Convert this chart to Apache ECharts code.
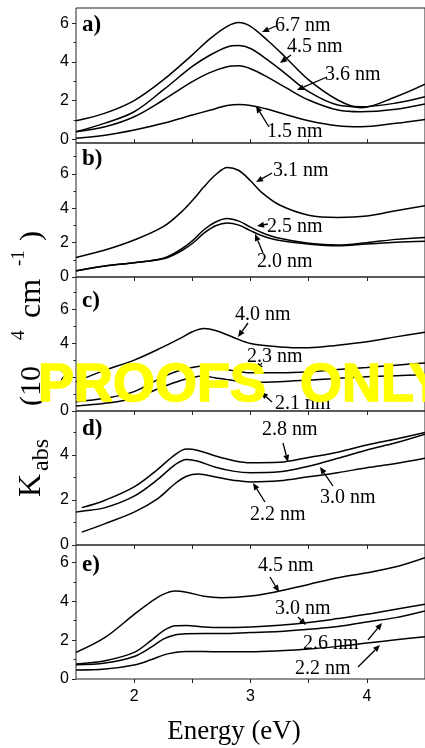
<!DOCTYPE html>
<html>
<head>
<meta charset="utf-8">
<script src="https://cdn.jsdelivr.net/npm/echarts@6/dist/echarts.min.js"></script>
<style>
  html, body { margin: 0; padding: 0; background: #fff; }
  #chart { width: 425px; height: 748px; }
</style>
</head>
<body>
<div id="chart"></div>
<script>
// Absorption spectra, five stacked panels sharing the energy axis (eV).

// ---- panel a) ----
const energyA = [1.5, 1.75, 2.0, 2.25, 2.5, 2.65, 2.8, 2.9, 3.0, 3.15, 3.3, 3.5, 3.75, 3.95, 4.25, 4.5];
const a_6_7 = [0.95, 1.35, 2.0, 3.07, 4.37, 5.2, 5.85, 6.05, 5.85, 5.1, 4.25, 3.07, 2.03, 1.63, 2.2, 2.85];
const a_4_5 = [0.38, 0.83, 1.42, 2.55, 3.77, 4.35, 4.78, 4.85, 4.7, 4.1, 3.4, 2.46, 1.77, 1.68, 1.87, 2.2];
const a_3_6 = [0.38, 0.64, 1.16, 2.03, 2.98, 3.45, 3.75, 3.8, 3.65, 3.2, 2.68, 2.03, 1.51, 1.42, 1.55, 1.82];
const a_1_5 = [0.04, 0.2, 0.47, 0.82, 1.25, 1.5, 1.74, 1.8, 1.75, 1.55, 1.28, 0.95, 0.69, 0.64, 0.82, 1.02];

// ---- panel b) ----
const energyB = [1.5, 1.75, 2.0, 2.25, 2.4, 2.5, 2.6, 2.7, 2.8, 2.9, 3.0, 3.1, 3.25, 3.5, 3.75, 4.0, 4.25, 4.5];
const b_3_1 = [1.14, 1.57, 2.15, 2.93, 3.75, 4.45, 5.25, 5.95, 6.38, 6.2, 5.6, 4.9, 4.19, 3.6, 3.47, 3.55, 3.86, 4.15];
const b_2_5 = [0.37, 0.64, 0.83, 1.09, 1.6, 2.1, 2.75, 3.2, 3.4, 3.25, 2.9, 2.58, 2.25, 1.96, 1.86, 2.0, 2.19, 2.3];
const b_2_0 = [0.35, 0.64, 0.83, 1.06, 1.5, 1.95, 2.55, 2.98, 3.15, 3.02, 2.7, 2.4, 2.12, 1.92, 1.82, 1.92, 2.02, 2.08];

// ---- panel c) ----
const energyC = [1.5, 1.75, 2.0, 2.25, 2.4, 2.5, 2.6, 2.7, 2.85, 3.0, 3.25, 3.5, 3.75, 4.0, 4.25, 4.5];
const c_4_0 = [1.73, 2.41, 3.0, 3.78, 4.3, 4.67, 4.86, 4.75, 4.35, 3.98, 3.78, 3.73, 3.88, 4.08, 4.37, 4.65];
const c_2_3 = [0.55, 0.75, 1.14, 2.02, 2.42, 2.57, 2.65, 2.55, 2.38, 2.25, 2.25, 2.31, 2.45, 2.57, 2.7, 2.83];
const c_2_1 = [0.29, 0.45, 0.75, 1.43, 1.8, 1.98, 2.06, 1.95, 1.8, 1.7, 1.73, 1.82, 1.92, 2.02, 2.08, 2.14];

// ---- panel d) ----
const energyD = [1.5, 1.55, 1.75, 2.0, 2.2, 2.35, 2.45, 2.55, 2.7, 2.85, 3.0, 3.25, 3.5, 3.75, 4.0, 4.25, 4.5];
const d_2_8 = [null, 1.66, 1.99, 2.58, 3.35, 4.0, 4.26, 4.2, 3.95, 3.75, 3.65, 3.67, 3.89, 4.12, 4.44, 4.71, 5.0];
const d_3_0 = [1.46, 1.5, 1.66, 2.17, 2.9, 3.56, 3.8, 3.72, 3.45, 3.28, 3.21, 3.25, 3.5, 3.85, 4.22, 4.54, 4.92];
const d_2_2 = [null, 0.57, 0.95, 1.46, 2.05, 2.72, 3.05, 3.15, 3.02, 2.88, 2.8, 2.85, 3.03, 3.21, 3.43, 3.62, 3.85];

// ---- panel e) ----
const energyE = [1.5, 1.75, 2.0, 2.15, 2.25, 2.35, 2.45, 2.6, 2.75, 3.0, 3.25, 3.5, 3.75, 4.0, 4.25, 4.5];
const e_4_5 = [1.37, 2.14, 3.33, 4.0, 4.36, 4.53, 4.47, 4.26, 4.19, 4.27, 4.53, 4.87, 5.21, 5.47, 5.78, 6.25];
const e_3_0 = [0.77, 0.94, 1.37, 2.0, 2.48, 2.74, 2.76, 2.68, 2.65, 2.68, 2.77, 2.91, 3.11, 3.33, 3.59, 3.85];
const e_2_6 = [0.73, 0.82, 1.16, 1.65, 2.05, 2.27, 2.33, 2.34, 2.34, 2.39, 2.44, 2.56, 2.7, 2.94, 3.16, 3.5];
const e_2_2 = [0.46, 0.51, 0.72, 1.0, 1.23, 1.36, 1.41, 1.41, 1.4, 1.4, 1.45, 1.54, 1.68, 1.85, 2.02, 2.18];

// axis ticks and labels
const energyTicks = [2, 2.5, 3, 3.5, 4];
const energyLabels = [2, 3, 4];
const majorK = [[0, 2, 4, 6], [0, 2, 4, 6], [0, 2, 4, 6], [0, 2, 4], [0, 2, 4, 6]];
const minorK = [[1, 3, 5], [1, 3, 5, 7], [1, 3, 5, 7], [1, 3, 5], [1, 3, 5]];
const panelTags = ['a)', 'b)', 'c)', 'd)', 'e)'];
const xTitle = 'Energy (eV)';
const stampWords = ['PROOFS', 'ONLY'];

// curves per panel: [values, size label]
const panels = [
  { energy: energyA, curves: [[a_6_7, '6.7 nm'], [a_4_5, '4.5 nm'], [a_3_6, '3.6 nm'], [a_1_5, '1.5 nm']] },
  { energy: energyB, curves: [[b_3_1, '3.1 nm'], [b_2_5, '2.5 nm'], [b_2_0, '2.0 nm']] },
  { energy: energyC, curves: [[c_4_0, '4.0 nm'], [c_2_3, '2.3 nm'], [c_2_1, '2.1 nm']] },
  { energy: energyD, curves: [[d_2_8, '2.8 nm'], [d_3_0, '3.0 nm'], [d_2_2, '2.2 nm']] },
  { energy: energyE, curves: [[e_4_5, '4.5 nm'], [e_3_0, '3.0 nm'], [e_2_6, '2.6 nm'], [e_2_2, '2.2 nm']] }
];

// ---- layout ----
const PLOT_LEFT = 76, PLOT_RIGHT = -7;
const frames = [
  { top: 8,   height: 135, min: -0.2, max: 6.8 },
  { top: 143, height: 134, min: 0,    max: 7.8 },
  { top: 277, height: 134, min: 0,    max: 7.9 },
  { top: 411, height: 134, min: 0,    max: 5.95 },
  { top: 545, height: 134, min: 0,    max: 6.9 }
];
const SANS = '"Liberation Sans", Arial, sans-serif';
const SERIF = '"Liberation Serif", "Times New Roman", serif';

// annotation placement: text anchor (left, middle) and arrow tail -> head, per panel/curve
const notePlaces = [
  [[275, 26, 276, 26, 262, 32], [287, 47, 291, 55, 280, 63], [325, 75, 327, 77, 297, 90], [267, 132, 269, 127, 256, 106]],
  [[273, 171, 272, 173, 256, 182], [267, 227, 268, 224, 257, 226], [257, 262, 263, 253, 255, 234]],
  [[235, 315, 248, 323, 238, 337], [247, 357, 262, 363, 256, 370], [275, 404, 272, 402, 261, 392]],
  [[262, 430, 283, 443, 288, 462], [320, 498, 333, 486, 320, 467], [250, 515, 265, 502, 253, 483]],
  [[258, 566, 270, 577, 279, 592], [275, 609, 298, 617, 306, 625], [303, 644, 368, 640, 382, 623], [295, 669, 358, 667, 380, 645]]
];
const tagPlaces = [[82, 25], [82, 159], [82, 301], [82, 429], [82, 565]];

const grids = [], xAxes = [], yAxes = [], series = [];
frames.forEach((f, i) => {
  grids.push({
    left: PLOT_LEFT, right: PLOT_RIGHT, top: f.top, height: f.height,
    show: true, borderColor: '#222', borderWidth: 1, containLabel: false
  });
  xAxes.push({
    type: 'value', gridIndex: i, min: 1.5, max: 4.5,
    axisLine: { show: false },
    axisTick: { show: true, inside: false, length: 4, customValues: energyTicks, lineStyle: { color: '#222', width: 1 } },
    axisLabel: {
      show: i === frames.length - 1, customValues: energyLabels, margin: 10,
      color: '#000', fontFamily: SANS, fontSize: 16
    },
    splitLine: { show: false }
  });
  yAxes.push({
    type: 'value', gridIndex: i, min: f.min, max: f.max,
    axisLine: { show: false },
    axisTick: { show: true, inside: false, length: 4, customValues: majorK[i], lineStyle: { color: '#222', width: 1 } },
    axisLabel: { customValues: majorK[i], margin: 7, color: '#000', fontFamily: SANS, fontSize: 16 },
    splitLine: { show: false }
  });
  yAxes.push({
    type: 'value', gridIndex: i, min: f.min, max: f.max, position: 'left',
    axisLine: { show: false },
    axisTick: { show: true, inside: false, length: 2.5, customValues: minorK[i], lineStyle: { color: '#222', width: 1 } },
    axisLabel: { show: false },
    splitLine: { show: false }
  });
});

panels.forEach((p, i) => {
  p.curves.forEach(([vals, name]) => {
    series.push({
      type: 'line', name: name, xAxisIndex: i, yAxisIndex: i * 2,
      data: p.energy.map((e, k) => [e, vals[k]]),
      smooth: 0.35, showSymbol: false, connectNulls: false,
      lineStyle: { color: '#000', width: 1.5 },
      silent: true, animation: false, z: 3
    });
  });
});

// arrow: shaft plus filled head pointing at (x2, y2)
function arrow(x1, y1, x2, y2) {
  const ang = Math.atan2(y2 - y1, x2 - x1);
  const L = 7, W = 3;
  const c = Math.cos(ang), s = Math.sin(ang);
  const bx = x2 - L * c, by = y2 - L * s;
  return [
    { type: 'line', z: 50, shape: { x1: x1, y1: y1, x2: bx, y2: by }, style: { stroke: '#000', lineWidth: 1.3 } },
    { type: 'polygon', z: 50, shape: { points: [[x2, y2], [bx + W * s, by - W * c], [bx - W * s, by + W * c]] }, style: { fill: '#000' } }
  ];
}

function label(x, y, text, font, opts) {
  return Object.assign({
    type: 'text', x: x, y: y, z: 50,
    style: { text: text, font: font, fill: '#000', align: 'left', verticalAlign: 'middle', textAlign: 'left', textVerticalAlign: 'middle' }
  }, opts || {});
}

const graphics = [];
panels.forEach((p, i) => {
  const [tx, ty] = tagPlaces[i];
  graphics.push(label(tx, ty, panelTags[i], 'bold 23px ' + SERIF));
  p.curves.forEach(([, name], k) => {
    const pl = notePlaces[i][k];
    graphics.push(label(pl[0], pl[1], name, '20px ' + SERIF));
    arrow(pl[2], pl[3], pl[4], pl[5]).forEach(g => graphics.push(g));
  });
});

// x-axis title
graphics.push({
  type: 'text', x: 234, y: 732, z: 50,
  style: { text: xTitle, font: '27px ' + SERIF, fill: '#000', align: 'center', verticalAlign: 'middle', textAlign: 'center', textVerticalAlign: 'middle' }
});

// rotated y-axis title: K_abs (10^4 cm^-1), read bottom to top
const R = Math.PI / 2;
[
  ['K', 32, 497, '32px'],
  ['abs', 42, 471, '24px'],
  ['(10', 32, 406, '30px'],
  ['4', 19, 340, '19px'],
  ['cm', 32, 318, '32px'],
  ['-1', 19, 266, '19px'],
  [')', 32, 241, '30px']
].forEach(([t, x, y, sz]) => graphics.push(label(x, y, t, sz + ' ' + SERIF, { rotation: R })));

// proof stamp across panel c
[[stampWords[0], 38], [stampWords[1], 300]].forEach(([w, x]) => {
  graphics.push({
    type: 'text', x: x, y: 386, z: 100,
    style: {
      text: w, font: 'bold 54px ' + SANS, fill: '#ffff00', stroke: '#ffff00', lineWidth: 1.5,
      align: 'left', verticalAlign: 'middle', textAlign: 'left', textVerticalAlign: 'middle'
    }
  });
});

const chart = echarts.init(document.getElementById('chart'), null, { renderer: 'canvas' });
chart.setOption({
  animation: false,
  backgroundColor: '#fff',
  grid: grids,
  xAxis: xAxes,
  yAxis: yAxes,
  series: series,
  graphic: { elements: graphics }
});
</script>
</body>
</html>
